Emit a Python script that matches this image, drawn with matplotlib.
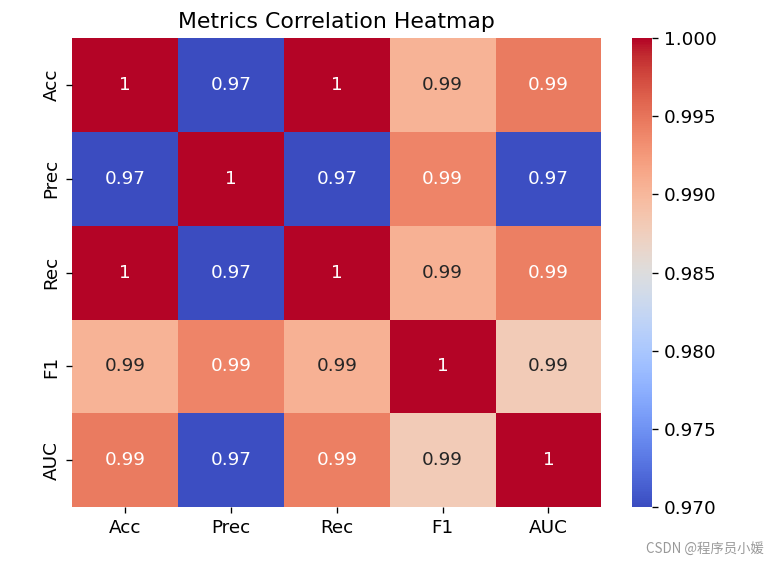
import matplotlib.pyplot as plt
import seaborn as sns
import numpy as np
import pandas as pd

metrics = ["Acc", "Prec", "Rec", "F1", "AUC"]

# correlation values
acc = [1.0, 0.9700, 0.9999, 0.9905, 0.9945]
prec = [0.9700, 1.0, 0.9701, 0.9940, 0.9702]
rec = [0.9999, 0.9701, 1.0, 0.9906, 0.9943]
f1 = [0.9905, 0.9940, 0.9906, 1.0, 0.9880]
auc = [0.9945, 0.9702, 0.9943, 0.9880, 1.0]

corr = pd.DataFrame([acc, prec, rec, f1, auc], index=metrics, columns=metrics)

fig = plt.figure(figsize=(6.4, 4.675), dpi=120)
ax = fig.add_axes([0.094, 0.096, 0.689, 0.836])
cax = fig.add_axes([0.823, 0.096, 0.026, 0.836])

sns.heatmap(corr, annot=True, annot_kws={"size": 11}, cmap="coolwarm",
            vmin=0.970, vmax=1.000, ax=ax, cbar_ax=cax)
cax.set_yticks([0.970, 0.975, 0.980, 0.985, 0.990, 0.995, 1.000])
cax.set_yticklabels(["0.970", "0.975", "0.980", "0.985", "0.990", "0.995", "1.000"])
cax.tick_params(labelsize=11)
ax.tick_params(labelsize=11)
ax.set_title("Metrics Correlation Heatmap", fontsize=13.2)

fig.text(0.995, 0.01, "CSDN @程序员小媛", ha="right", va="bottom", fontsize=8,
         color="#999999", family=["Noto Sans CJK SC", "DejaVu Sans"])

fig.savefig("out.png", dpi=120)
